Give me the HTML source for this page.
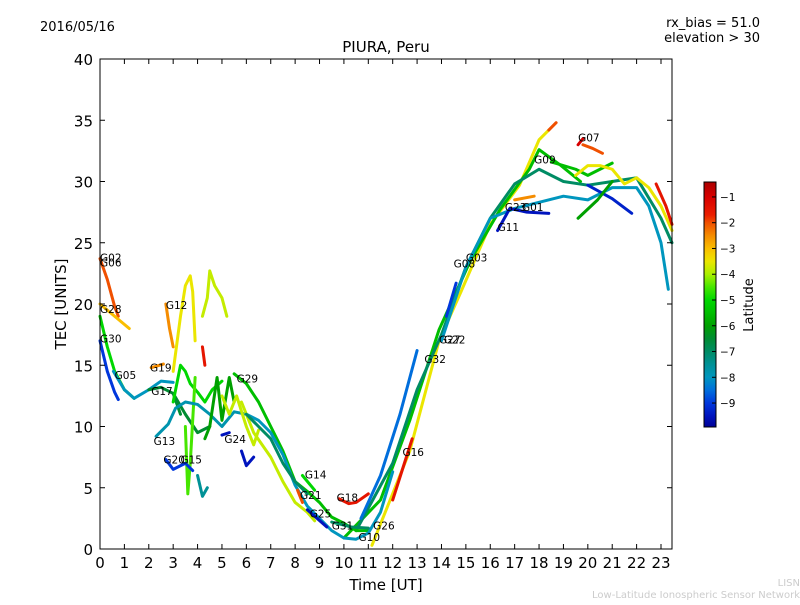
<!DOCTYPE html>
<html><head><meta charset="utf-8"><style>
body{margin:0;background:#fff;}
svg text{font-family:"DejaVu Sans","Liberation Sans",sans-serif;}
</style></head><body>
<svg id="chart" width="800" height="600" xmlns="http://www.w3.org/2000/svg">
<rect width="800" height="600" fill="#fff"/>
<text x="40" y="31" font-size="13">2016/05/16</text>
<text x="760" y="27" font-size="13" text-anchor="end">rx_bias = 51.0</text>
<text x="760" y="42" font-size="13" text-anchor="end">elevation &gt; 30</text>
<text x="386" y="52" font-size="15" text-anchor="middle">PIURA, Peru</text>
<g id="plot"></g>
<rect x="100" y="59" width="572" height="490" fill="none" stroke="#000" stroke-width="1"/>
<g id="axes"></g>
<text x="386" y="590" font-size="15" text-anchor="middle">Time [UT]</text>
<text transform="translate(66,304) rotate(-90)" font-size="15" text-anchor="middle">TEC [UNITS]</text>
<g id="cbar"></g>
<text transform="translate(753,305) rotate(-90)" font-size="13" text-anchor="middle">Latitude</text>
<text x="800" y="586" font-size="10" fill="#ccc" text-anchor="end">LISN</text>
<text x="800" y="598" font-size="10" fill="#ccc" text-anchor="end">Low-Latitude Ionospheric Sensor Network</text>
</svg>
<script>
const xTicks=[0,1,2,3,4,5,6,7,8,9,10,11,12,13,14,15,16,17,18,19,20,21,22,23];
const yTicks=[0,5,10,15,20,25,30,35,40];
const cbTicks=[-1,-2,-3,-4,-5,-6,-7,-8,-9];
const trackLat=[-2,-3,-5,-9,-8,-6.5,-2.5,-3.5,-3.8,-1.5,-2.5,-6.5,-5,-4.5,-7.8,-9,-7.5,-6,-9.5,-9.5,-3.8,
 -3.5,-2,-5.5,-7,-8.5,-1.5,-8,-9.5,-9,-2.5,-5.5,-1,-2,-3.5,-9.3,-1.5,-6,
 -5.5,-8,-3.8,-7,-1.5,-9.5,-5,-2,-7];
const trackPts=[
 [[0,23.7],[0.3,22],[0.6,19.8],[0.75,19]],
 [[0,20],[0.6,19],[1.2,18]],
 [[0,19],[0.3,16.5],[0.6,14.5],[1,13],[1.4,12.3]],
 [[0,17],[0.3,14.5],[0.6,12.8],[0.75,12.2]],
 [[0.55,14.5],[1,13],[1.4,12.3],[2,13],[2.5,13.7],[3,13.6]],
 [[2,13],[2.5,13.2],[3,12.7],[3.5,11],[4,9.5],[4.5,10]],
 [[2.7,20],[2.85,18],[3,16.5]],
 [[3,14.5],[3.3,19],[3.5,21.5],[3.7,22.3],[3.8,21],[3.9,17]],
 [[4.2,19],[4.4,20.5],[4.5,22.7],[4.7,21.5],[5,20.5],[5.2,19]],
 [[4.2,16.5],[4.3,15]],
 [[2.1,14.8],[2.6,15.1]],
 [[3,12.7],[3.3,11]],
 [[3,12],[3.3,15],[3.5,14.5],[3.7,13.5],[4,12.8],[4.3,12],[4.6,13],[5,13.7]],
 [[3.5,10],[3.6,4.5],[3.7,7],[3.9,14]],
 [[2.3,9.2],[2.8,10.2],[3.1,11.5],[3.5,12],[4,11.8],[4.5,11],[5,10],[5.5,11.2],[6,11]],
 [[2.7,7.3],[3,6.5],[3.5,7],[3.8,6.4]],
 [[4,6],[4.2,4.3],[4.4,5]],
 [[4.3,9],[4.5,10],[4.8,14],[5,10.5],[5.3,14],[5.5,12]],
 [[5,9.3],[5.3,9.5]],
 [[5.8,8],[6,6.8],[6.3,7.5]],
 [[5,12.5],[5.3,11],[5.6,12.5],[6,10],[6.3,8.5],[6.5,9.7]],
 [[11.15,0.3],[12.7,8],[13.9,17],[14.8,21],[16,26.5],[17.2,29.7],[18,33.4],[18.4,34.2]],
 [[18.4,34.2],[18.7,34.8]],
 [[10,0.9],[11.5,4],[12.7,10.5],[13.9,17.9],[15.2,23.6],[16.4,27.7],[17.6,31],[18,32.6],[18.9,31.3],[19.7,30]],
 [[10.5,1.5],[12,7],[13,13],[14,17.5],[15,23],[16,27],[17,29.8],[18,31],[19,30],[20,29.7],[21,30],[22,30.3],[23,27],[23.45,25]],
 [[10.7,2.5],[11.5,6],[12.3,11],[13,16.2]],
 [[12,4],[12.8,9]],
 [[14,17],[15,23],[16,27],[17,27.8],[18,28.3],[19,28.8],[20,28.5],[21,29.5],[22,29.5],[22.5,28],[23,25],[23.3,21.2]],
 [[16.3,26],[16.8,27.8],[17.5,27.5],[18.4,27.4]],
 [[14.2,19],[14.6,21.7]],
 [[17,28.5],[17.8,28.8]],
 [[18.5,31.6],[19.5,31],[20,30.5],[21,31.5]],
 [[19.6,33],[19.8,33.5]],
 [[19.8,33],[20.2,32.7],[20.6,32.3]],
 [[19.5,30.5],[20,31.3],[20.5,31.3],[21,31],[21.5,29.8],[22,30.3],[22.5,29.5],[23,28],[23.45,26]],
 [[20,29.7],[21,28.6],[21.8,27.4]],
 [[22.8,29.8],[23.2,28],[23.45,26.5]],
 [[19.6,27],[20.4,28.5],[21,30]],
 [[5.5,14.3],[6,13.5],[6.5,12],[7,10],[7.5,8],[8,5.5],[8.5,4.7],[9,3.8],[9.5,2.6],[10,2.1],[10.5,1.5],[11,1.5]],
 [[6,11],[6.5,10.5],[7,9.5],[7.5,7.7],[8,5.2],[8.5,3.5],[9,2.5],[9.5,1.5],[10,0.9],[10.5,0.8],[11,1.3],[11.5,3],[12,6.3]],
 [[5.8,12],[6.3,9.5],[7,7.5],[7.5,5.5],[8,3.8],[8.5,3],[8.8,2.3]],
 [[6,11],[6.5,10],[7,9],[7.5,7],[8,5.5],[8.5,4.5]],
 [[9.8,4.1],[10.2,3.7],[10.5,3.8],[11,4.5]],
 [[8.5,3.2],[9.3,1.8]],
 [[8.3,6],[8.8,4.8]],
 [[8.1,4.8],[8.3,3.8]],
 [[9.5,2.2],[10.3,1.8],[11,1.7]]
];
const labelNames=["G02","G06","G28","G30","G05","G19","G17","G13","G20","G15","G24","G29","G12","G14","G21","G25","G18","G31","G10","G26","G16","G32","G27","G22","G08","G03","G11","G23","G01","G09","G07"];
const labelT=[0,0,0,0,0.6,2.05,2.1,2.2,2.6,3.3,5.1,5.6,2.7,8.4,8.2,8.6,9.7,9.5,10.6,11.2,12.4,13.3,13.9,14.1,14.5,15.0,16.3,16.6,17.3,17.8,19.6];
const labelV=[23.8,23.4,19.6,17.2,14.2,14.8,12.9,8.8,7.3,7.3,9.0,13.9,19.9,6.1,4.4,2.9,4.2,1.9,1.0,1.9,7.9,15.5,17.1,17.1,23.3,23.8,26.3,27.9,27.9,31.8,33.6];
const X0=100,X1=672,Y0=549,Y1=59,XPU=(661-100)/23,YPU=(549-59)/40;
const xs=t=>X0+t*XPU, ys=v=>Y0-v*YPU;
const CB_TOP=182,CB_BOT=427,CB_MAX=-0.42,CB_MIN=-9.93;
const cbY=l=>CB_TOP+(CB_MAX-l)/(CB_MAX-CB_MIN)*(CB_BOT-CB_TOP);
const cStops=[[-0.42,[170,0,0]],[-1,[215,0,0]],[-1.7,[235,30,0]],[-2,[240,80,0]],[-2.5,[245,140,0]],[-3,[250,190,0]],[-3.5,[235,230,0]],[-4,[170,240,0]],[-4.5,[70,230,0]],[-5,[0,215,0]],[-5.5,[0,190,0]],[-6,[0,160,0]],[-6.5,[0,140,50]],[-7,[0,140,100]],[-7.5,[0,145,150]],[-8,[0,150,190]],[-8.5,[0,110,220]],[-9,[0,55,220]],[-9.5,[0,20,190]],[-9.93,[0,0,150]]];
function latColor(l){
 if(l>=cStops[0][0])return `rgb(${cStops[0][1]})`;
 for(let i=1;i<cStops.length;i++){const [a,ca]=cStops[i-1],[b,cb]=cStops[i];
  if(l>=b){const f=(a-l)/(a-b);const c=ca.map((v,k)=>Math.round(v+(cb[k]-v)*f));return `rgb(${c})`;}}
 return `rgb(${cStops[cStops.length-1][1]})`;}
const NS="http://www.w3.org/2000/svg";
const mk=(tag,attrs,parent)=>{const e=document.createElementNS(NS,tag);for(const k in attrs)e.setAttribute(k,attrs[k]);parent.appendChild(e);return e;};
const plot=document.getElementById('plot'),axes=document.getElementById('axes'),cbar=document.getElementById('cbar');
trackPts.forEach((pts,i)=>{
 const p=mk('polyline',{points:pts.map(d=>xs(d[0])+','+ys(d[1])).join(' '),fill:'none',stroke:latColor(trackLat[i]),'stroke-width':3,'stroke-linejoin':'round','stroke-linecap':'round'},plot);
 
 
});
labelNames.forEach((n,i)=>{
 const t=mk('text',{x:xs(labelT[i]),y:ys(labelV[i])+4,'font-size':10.5},plot);t.textContent=n;
 
 
});
xTicks.forEach(v=>{
 const x=xs(v);
 mk('line',{x1:x,x2:x,y1:Y0,y2:Y0-5,stroke:'#000'},axes);
 mk('line',{x1:x,x2:x,y1:Y1,y2:Y1+5,stroke:'#000'},axes);
 const t=mk('text',{x:x,y:Y0+19,'font-size':15,'text-anchor':'middle'},axes);t.textContent=v;
 
 
});
yTicks.forEach(v=>{
 const y=ys(v);
 mk('line',{x1:X0,x2:X0+5,y1:y,y2:y,stroke:'#000'},axes);
 mk('line',{x1:X1,x2:X1-5,y1:y,y2:y,stroke:'#000'},axes);
 const t=mk('text',{x:X0-7,y:y+6,'font-size':15,'text-anchor':'end'},axes);t.textContent=v;
 
 
});
for(let y=CB_TOP;y<CB_BOT;y++){const l=CB_MAX-(y-CB_TOP+0.5)/(CB_BOT-CB_TOP)*(CB_MAX-CB_MIN);
 mk('rect',{x:704,y:y,width:12,height:1.2,fill:latColor(l)},cbar);}
mk('rect',{x:704,y:CB_TOP,width:12,height:CB_BOT-CB_TOP,fill:'none',stroke:'#000'},cbar);
cbTicks.forEach(v=>{const y=cbY(v);
 mk('line',{x1:712,x2:716,y1:y,y2:y,stroke:'#000'},cbar);
 const t=mk('text',{x:720,y:y+4,'font-size':10.5},cbar);t.textContent='\u2212'+(-v);
 
 
});
</script>
</body></html>
